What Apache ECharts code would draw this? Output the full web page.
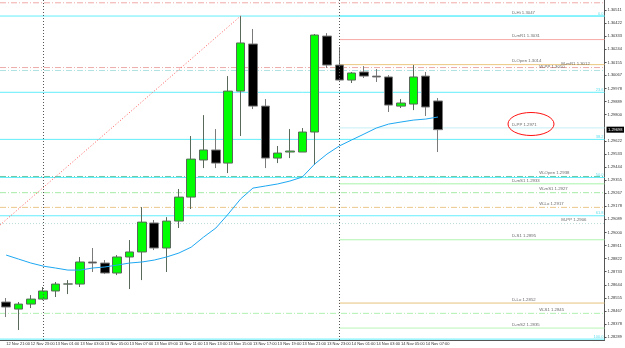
<!DOCTYPE html>
<html>
<head>
<meta charset="utf-8">
<script src="https://cdn.jsdelivr.net/npm/echarts@6/dist/echarts.min.js"></script>
<style>
  html, body { margin: 0; padding: 0; background: #fff; }
  #chart { width: 625px; height: 348px; }
</style>
</head>
<body>
<div id="chart"></div>
<script>
// hourly bars, 12 Nov 21:00 .. 14 Nov 08:00, then empty shift space
var categories = [
  '12 Nov 21:00', '12 Nov 22:00', '12 Nov 23:00', '13 Nov 00:00', '13 Nov 01:00', '13 Nov 02:00',
  '13 Nov 03:00', '13 Nov 04:00', '13 Nov 05:00', '13 Nov 06:00', '13 Nov 07:00', '13 Nov 08:00',
  '13 Nov 09:00', '13 Nov 10:00', '13 Nov 11:00', '13 Nov 12:00', '13 Nov 13:00', '13 Nov 14:00',
  '13 Nov 15:00', '13 Nov 16:00', '13 Nov 17:00', '13 Nov 18:00', '13 Nov 19:00', '13 Nov 20:00',
  '13 Nov 21:00', '13 Nov 22:00', '13 Nov 23:00', '14 Nov 00:00', '14 Nov 01:00', '14 Nov 02:00',
  '14 Nov 03:00', '14 Nov 04:00', '14 Nov 05:00', '14 Nov 06:00', '14 Nov 07:00', '14 Nov 08:00',
  '14 Nov 09:00', '14 Nov 10:00', '14 Nov 11:00', '14 Nov 12:00', '14 Nov 13:00', '14 Nov 14:00',
  '14 Nov 15:00', '14 Nov 16:00', '14 Nov 17:00', '14 Nov 18:00', '14 Nov 19:00', '14 Nov 20:00',
  '14 Nov 21:00'
];

var opens  = [1.28527, 1.28479, 1.28513, 1.28547, 1.28602, 1.28649, 1.28649, 1.28799, 1.28792, 1.28724,
              1.28833, 1.28867, 1.29064, 1.28894, 1.29077, 1.29240, 1.29492, 1.29560, 1.29471, 1.29960,
              1.30280, 1.29858, 1.29505, 1.29546, 1.29546, 1.29682, 1.30334, 1.30137, 1.30035, 1.30090,
              1.30062, 1.30056, 1.29858, 1.29872, 1.30062, 1.29893];
var closes = [1.28493, 1.28513, 1.28547, 1.28602, 1.28649, 1.28650, 1.28799, 1.28792, 1.28724, 1.28833,
              1.28867, 1.29070, 1.28894, 1.29077, 1.29240, 1.29498, 1.29560, 1.29471, 1.29960, 1.30287,
              1.29858, 1.29505, 1.29539, 1.29553, 1.29682, 1.30341, 1.30137, 1.30035, 1.30083, 1.30062,
              1.30056, 1.29865, 1.29879, 1.30056, 1.29852, 1.29698];
var lows   = [1.28425, 1.28337, 1.28486, 1.28540, 1.28561, 1.28581, 1.28629, 1.28731, 1.28717, 1.28710,
              1.28615, 1.28676, 1.28880, 1.28731, 1.29030, 1.29159, 1.29437, 1.29437, 1.29403, 1.29655,
              1.29838, 1.29437, 1.29471, 1.29505, 1.29546, 1.29458, 1.30117, 1.30033, 1.30015, 1.30049,
              1.30022, 1.29818, 1.29845, 1.29831, 1.29791, 1.29546];
var highs  = [1.28554, 1.28527, 1.28574, 1.28629, 1.28663, 1.28676, 1.28833, 1.28894, 1.28812, 1.28846,
              1.28948, 1.29172, 1.29084, 1.29104, 1.29295, 1.29655, 1.29797, 1.29702, 1.30062, 1.30470,
              1.30382, 1.29906, 1.29587, 1.29702, 1.29709, 1.30348, 1.30354, 1.30259, 1.30090, 1.30130,
              1.30110, 1.30069, 1.29906, 1.30137, 1.30090, 1.29913];

var maValues = [1.28846, 1.28819, 1.28792, 1.28771, 1.28758, 1.28744, 1.28744, 1.28758, 1.28765, 1.28778,
                1.28792, 1.28799, 1.28812, 1.28833, 1.28860, 1.28900, 1.28968, 1.29030, 1.29125, 1.29227,
                1.29301, 1.29315, 1.29329, 1.29349, 1.29376, 1.29464, 1.29532, 1.29587, 1.29628, 1.29668,
                1.29709, 1.29736, 1.29750, 1.29763, 1.29770, 1.29784];

var levelNames  = ['W-Hi', 'D-Hi', 'D-mR1', 'D-Open', 'M-mR1', 'W-PP', 'D-PP', 'W-Open',
                   'D-mS1', 'W-mS1', 'W-Lo', 'M-PP', 'D-S1', 'D-Lo', 'W-S1', 'D-mS2'];
var levelPrices = [1.3056, 1.3047, 1.3031, 1.3014, 1.3012, 1.3010, 1.2971, 1.2938,
                   1.2933, 1.2927, 1.2917, 1.2906, 1.2895, 1.2852, 1.2845, 1.2835];

var fiboNames  = ['0.0', '23.6', '38.2', '50.0', '61.8', '100.0'];
var fiboPrices = [1.30470, 1.29952, 1.29632, 1.29373, 1.29113, 1.28275];

var yTicks = [1.30511, 1.30422, 1.30333, 1.30244, 1.30155, 1.30067, 1.29978, 1.29889, 1.29800,
              1.29622, 1.29533, 1.29444, 1.29355, 1.29267, 1.29178, 1.29089, 1.29000, 1.28911,
              1.28822, 1.28733, 1.28644, 1.28555, 1.28467, 1.28378, 1.28289];

var trendX = [-0.5, 19];
var trendY = [1.29050, 1.30470];

var separators = [3, 27];

// styling of the level lines
var DASHDOT = [6, 2, 1, 2];
var levelColor = {
  'W-Hi': '#f2abab', 'D-Hi': '#62eefa', 'D-mR1': '#f7aaa5', 'D-Open': '#ecc882', 'M-mR1': '#eeaaaa',
  'W-PP': '#b0e2e2', 'D-PP': '#c4eef4', 'W-Open': '#70c8a4', 'D-mS1': '#a6f3a6', 'W-mS1': '#a8eba8',
  'W-Lo': '#ecc88a', 'M-PP': '#b8dcd8', 'D-S1': '#b0f5b0', 'D-Lo': '#e8c47a', 'W-S1': '#b0f0b0', 'D-mS2': '#b8f5b8'
};
var levelDash = {
  'W-Hi': DASHDOT, 'M-mR1': DASHDOT, 'W-PP': DASHDOT, 'W-Open': DASHDOT, 'W-mS1': DASHDOT,
  'W-Lo': DASHDOT, 'M-PP': [1, 2], 'W-S1': DASHDOT
};
var labelX = { D: 41, W: 43.2, M: 45 };

var chart = echarts.init(document.getElementById('chart'), null, { renderer: 'canvas' });
var FONT = 'Liberation Sans';

var ohlc = opens.map(function (o, i) { return [o, closes[i], lows[i], highs[i]]; });
var lastPrice = closes[closes.length - 1];

var series = [];

// fibo lines
fiboPrices.forEach(function (p, i) {
  series.push({
    type: 'line', xAxisIndex: 1, z: 1, silent: true, symbol: 'none',
    data: [[-0.5, p], [48.5, p]],
    lineStyle: { color: '#62eefa', width: 1 }
  });
});

// pivot lines
levelNames.forEach(function (n, i) {
  var from = n.charAt(0) === 'D' ? 27 : -0.5;
  series.push({
    type: 'line', xAxisIndex: 1, z: 2, silent: true, symbol: 'none',
    data: [[from, levelPrices[i]], [48.5, levelPrices[i]]],
    lineStyle: { color: levelColor[n], width: 1, type: levelDash[n] || 'solid' }
  });
});

// level labels
series.push({
  type: 'scatter', xAxisIndex: 1, z: 6, silent: true, symbolSize: 0,
  data: levelNames.map(function (n, i) {
    return { value: [labelX[n.charAt(0)], levelPrices[i]], name: n + ' ' + levelPrices[i].toFixed(4) };
  }),
  label: {
    show: true, position: 'right', distance: 0, offset: [0, -3.5],
    formatter: '{b}', fontFamily: FONT, fontSize: 4.3, color: '#444'
  }
});

// fibo labels
series.push({
  type: 'scatter', xAxisIndex: 1, z: 6, silent: true, symbolSize: 0,
  data: fiboNames.map(function (n, i) { return { value: [48.5, fiboPrices[i]], name: n }; }),
  label: {
    show: true, position: 'left', distance: 1, offset: [0, -2.5],
    formatter: '{b}', fontFamily: FONT, fontSize: 4, color: '#36d6e8'
  }
});

// trend line
series.push({
  type: 'line', xAxisIndex: 1, z: 4, silent: true, symbol: 'none',
  data: trendX.map(function (x, i) { return [x, trendY[i]]; }),
  lineStyle: { color: '#ff5a5a', width: 1, type: [1, 2] }
});

// candles
series.push({
  type: 'candlestick', xAxisIndex: 0, z: 3, barWidth: 9,
  data: ohlc,
  itemStyle: {
    color: '#00ff00', color0: '#000000',
    borderColor: '#5a6a5a', borderColor0: '#7a7a7a', borderWidth: 1
  },
  markLine: {
    silent: true, symbol: 'none', animation: false,
    data: separators.map(function (s) {
      return { xAxis: s, lineStyle: { color: '#555', type: [1, 2], width: 1 }, label: { show: false } };
    })
  }
});

// current price tag
series.push({
  type: 'line', xAxisIndex: 1, z: 10, silent: true, symbol: 'none',
  data: [[-0.5, lastPrice], [48.5, lastPrice]],
  lineStyle: { color: 'rgba(0,0,0,0)', width: 0 },
  endLabel: {
    show: true, distance: 2, formatter: lastPrice.toFixed(5),
    backgroundColor: '#000', color: '#fff', fontFamily: FONT, fontSize: 4, padding: [1, 1.5, 1, 1.5]
  }
});

// moving average
series.push({
  type: 'line', xAxisIndex: 0, z: 5, silent: true, symbol: 'none',
  data: maValues,
  lineStyle: { color: '#1ea8f2', width: 1 }
});

var option = {
  animation: false,
  backgroundColor: '#ffffff',
  grid: { left: -2, right: 19, top: 0, bottom: 8 },
  xAxis: [
    {
      type: 'category',
      data: categories,
      boundaryGap: true,
      axisLine: { onZero: false, lineStyle: { color: '#555' } },
      axisTick: {
        alignWithLabel: true, length: 2, lineStyle: { color: '#555' },
        interval: function (i) { return i % 2 === 0 && i < opens.length; }
      },
      axisLabel: {
        interval: function (i) { return i % 2 === 0 && i < opens.length; },
        align: 'left', margin: 2, fontFamily: FONT, fontSize: 4, color: '#333'
      },
      splitLine: { show: false }
    },
    {
      type: 'value', min: -0.5, max: 48.5, show: false
    }
  ],
  yAxis: {
    type: 'value',
    position: 'right',
    min: 1.28269,
    max: 1.30579,
    axisLine: { show: true, onZero: false, lineStyle: { color: '#555' } },
    axisTick: { show: true, length: 2, customValues: yTicks, lineStyle: { color: '#555' } },
    axisLabel: {
      customValues: yTicks, margin: 3, fontFamily: FONT, fontSize: 4, color: '#333',
      formatter: function (v) { return v.toFixed(5); }
    },
    splitLine: { show: false }
  },
  graphic: [{
    type: 'ellipse', silent: true, z: 100,
    shape: { cx: 531, cy: 124, rx: 23, ry: 11.5 },
    style: { fill: 'none', stroke: '#ff1010', lineWidth: 1 }
  }],
  series: series
};

chart.setOption(option);

window.addEventListener('resize', function () {
  chart.resize();
});
</script>
</body>
</html>
